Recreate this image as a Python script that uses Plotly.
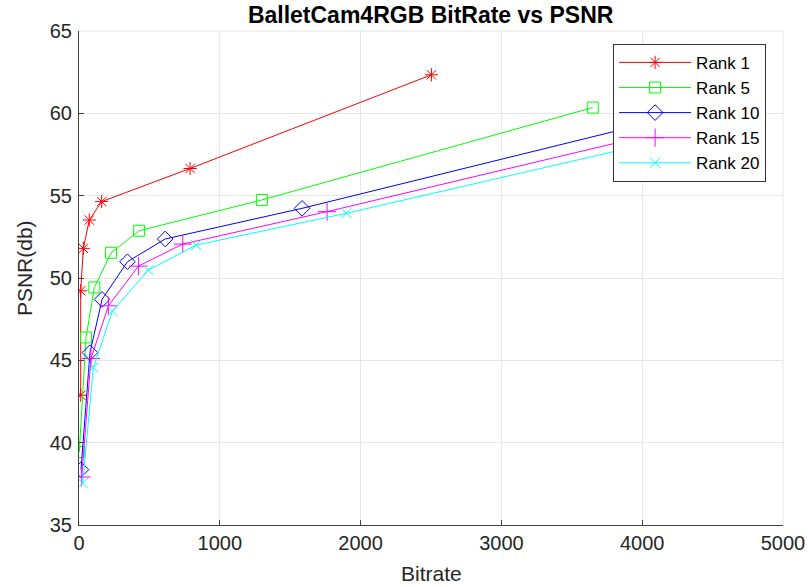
import plotly.graph_objects as go

series_names = ["Rank 1", "Rank 5", "Rank 10", "Rank 15", "Rank 20"]

rank1_bitrate = [12, 12, 31, 73, 161, 789, 2503]
rank1_psnr = [42.88, 49.22, 51.80, 53.52, 54.64, 56.65, 62.34]

rank5_bitrate = [2, 50, 109, 228, 427, 1299, 3649]
rank5_psnr = [39.43, 46.39, 49.43, 51.53, 52.87, 54.74, 60.35]

rank10_bitrate = [14, 78, 164, 344, 612, 1584, 4300]
rank10_psnr = [38.36, 45.47, 48.70, 50.99, 52.37, 54.23, 59.95]

rank15_bitrate = [19, 85, 209, 422, 737, 1762, 4550]
rank15_psnr = [37.91, 45.11, 48.31, 50.72, 52.06, 54.03, 59.69]

rank20_bitrate = [26, 102, 237, 493, 832, 1899, 4750]
rank20_psnr = [37.54, 44.56, 47.99, 50.48, 52.00, 53.93, 59.55]

x_ticks = [0, 1000, 2000, 3000, 4000, 5000]
y_ticks = [35, 40, 45, 50, 55, 60, 65]

colors = ["#FF0000", "#00FF00", "#0000FF", "#FF00FF", "#00FFFF"]
symbols = ["asterisk-open", "square-open", "diamond-open", "cross-thin-open", "x-thin-open"]
sizes = [11, 11, 12, 13, 10]

data = [
    (rank1_bitrate, rank1_psnr),
    (rank5_bitrate, rank5_psnr),
    (rank10_bitrate, rank10_psnr),
    (rank15_bitrate, rank15_psnr),
    (rank20_bitrate, rank20_psnr),
]

FONT = "Liberation Sans, Arial, Helvetica"

fig = go.Figure()
for name, (xs, ys), c, s, sz in zip(series_names, data, colors, symbols, sizes):
    fig.add_trace(go.Scatter(
        x=xs, y=ys, name=name, mode="lines+markers",
        line=dict(color=c, width=1),
        marker=dict(symbol=s, size=sz, color=c, line=dict(color=c, width=1)),
    ))

axis_common = dict(
    showgrid=True, gridcolor="#E6E6E6", gridwidth=1,
    zeroline=False, showline=True, linecolor="#404040", linewidth=1,
    ticks="inside", ticklen=5, tickcolor="#404040",
    tickfont=dict(family=FONT, size=20, color="#262626"),
    mirror=False, automargin=False,
)

fig.update_layout(
    width=808, height=587,
    margin=dict(l=79, r=25, t=31, b=62),
    paper_bgcolor="white", plot_bgcolor="white",
    title=dict(text="<b>BalletCam4RGB BitRate vs PSNR</b>", x=0.533, xanchor="center",
               y=0.975, yanchor="middle",
               font=dict(family=FONT, size=23, color="#000000")),
    xaxis=dict(range=[0, 5000], tickvals=x_ticks, ticktext=[str(v) for v in x_ticks],
               **axis_common),
    yaxis=dict(range=[35, 65], tickvals=y_ticks, ticktext=[str(v) for v in y_ticks],
               ticklabelstandoff=2,
               **axis_common),
    legend=dict(x=0.976, xanchor="right", y=0.974, yanchor="top",
                bgcolor="white", bordercolor="#333333", borderwidth=1,
                font=dict(family=FONT, size=17, color="#000000"),
                tracegroupgap=0, itemwidth=72),
    showlegend=True,
    annotations=[
        dict(text="Bitrate", xref="paper", yref="paper", x=0.5, y=0, yshift=-48,
             xanchor="center", yanchor="middle", showarrow=False,
             font=dict(family=FONT, size=21, color="#262626")),
        dict(text="PSNR(db)", xref="paper", yref="paper", x=0, xshift=-55, y=0.52,
             xanchor="center", yanchor="middle", showarrow=False, textangle=-90,
             font=dict(family=FONT, size=21, color="#262626")),
    ],
)

# light top/right box edges like MATLAB grid
fig.add_shape(type="line", xref="paper", yref="paper", x0=0, x1=1, y0=1, y1=1,
              line=dict(color="#E6E6E6", width=1), layer="below")
fig.add_shape(type="line", xref="paper", yref="paper", x0=1, x1=1, y0=0, y1=1,
              line=dict(color="#E6E6E6", width=1), layer="below")

fig.write_html("out.html")
